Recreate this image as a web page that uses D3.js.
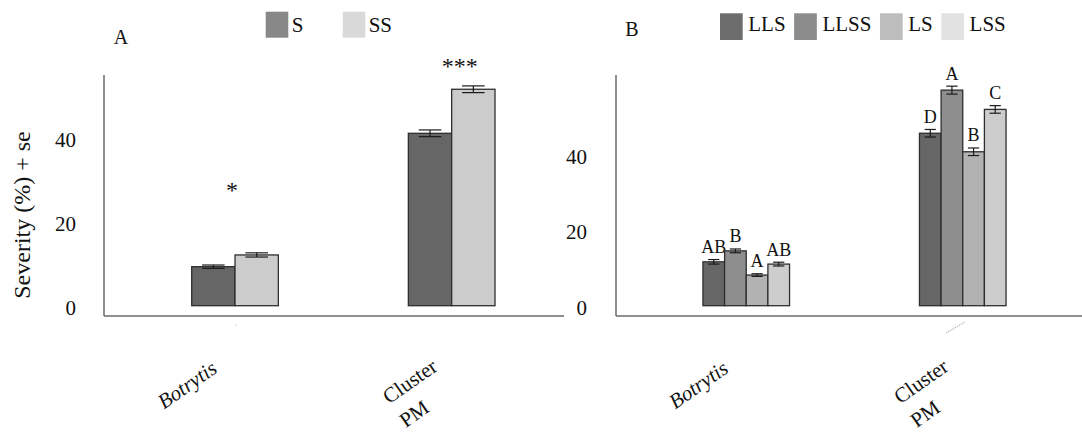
<!DOCTYPE html>
<html><head><meta charset="utf-8">
<script src="https://cdn.jsdelivr.net/npm/d3@7"></script>
<style>
body{margin:0;background:#fff}
svg{display:block}
svg text{font-family:"Liberation Serif","Times New Roman",Times,serif !important;fill:#111}
</style>
</head><body>
<svg id="c" width="1082" height="432" font-family="Liberation Serif"></svg>
<script>
// ---------- data ----------
const categories = ["Botrytis", "Cluster PM"];
const categoryLines = [["Botrytis"], ["Cluster", "PM"]];
const categoryItalic = [true, false];
const yTicks = [0, 20, 40];

// Panel A
const seriesA = ["S", "SS"];
const A_S = [9.3, 41.1];
const A_SS = [12.1, 51.6];
const A_S_se = [0.4, 0.8];
const A_SS_se = [0.5, 0.8];
const sigA = ["*", "***"];
const sigLevelA = [25.7, 55.2];

// Panel B
const seriesB = ["LLS", "LLSS", "LS", "LSS"];
const B_LLS = [11.6, 45.6];
const B_LLSS = [14.5, 57.0];
const B_LS = [8.1, 40.7];
const B_LSS = [11.0, 51.9];
const B_LLS_se = [0.6, 1.0];
const B_LLSS_se = [0.5, 1.05];
const B_LS_se = [0.35, 1.0];
const B_LSS_se = [0.5, 1.0];
const B_LLS_let = ["AB", "D"];
const B_LLSS_let = ["B", "A"];
const B_LS_let = ["A", "B"];
const B_LSS_let = ["AB", "C"];

// ---------- styles ----------
const FONT = "'Liberation Serif', 'Times New Roman', Times, serif";
const barFillA = ["#666666", "#cccccc"];
const legFillA = ["#888888", "#d9d9d9"];
const barFillB = ["#666666", "#8e8e8e", "#b2b2b2", "#cdcdcd"];
const legFillB = ["#6d6d6d", "#8c8c8c", "#bdbdbd", "#e2e2e2"];

const svg = d3.select("#c");

function txt(sel) { return sel.style("font-family", FONT).attr("fill", "#111"); }

function panel(opt) {
  const g = svg.append("g");
  const x0 = d3.scaleBand().domain(categories).range(opt.xRange).paddingInner(0.6).paddingOuter(0.3);
  const x1 = d3.scaleBand().domain(opt.series).range([0, x0.bandwidth()]);
  const y = d3.scaleLinear().domain([0, opt.yMax]).range([305.7, 75]);

  // axis lines
  g.append("line").attr("x1", opt.axisX).attr("x2", opt.axisX).attr("y1", 75).attr("y2", 316)
    .attr("stroke", "#6a6a6a").attr("stroke-width", 1.5);
  g.append("line").attr("x1", opt.axisX).attr("x2", opt.xEnd).attr("y1", 316).attr("y2", 316)
    .attr("stroke", "#6a6a6a").attr("stroke-width", 1.5);

  // y tick labels
  const ax = g.append("g").attr("transform", `translate(${opt.axisX},0)`)
    .call(d3.axisLeft(y).tickValues(yTicks).tickSize(0).tickPadding(opt.tickPad).tickFormat(d3.format("d")));
  ax.attr("font-family", null);
  ax.select(".domain").remove();
  txt(ax.selectAll("text")).attr("font-size", 21).attr("dy", "0.42em");

  // bars
  opt.series.forEach((s, si) => {
    const vals = opt.values[si], ses = opt.se[si];
    categories.forEach((c, ci) => {
      const bx = x0(c) + x1(s), bw = x1.bandwidth();
      g.append("rect").attr("x", bx).attr("y", y(vals[ci])).attr("width", bw)
        .attr("height", y(0) - y(vals[ci]))
        .attr("fill", opt.fills[si]).attr("stroke", "#2e2e2e").attr("stroke-width", 1.3);
      const cx = bx + bw / 2, cw = bw * 0.26;
      const top = y(vals[ci] + ses[ci]), bot = y(vals[ci] - ses[ci]);
      g.append("line").attr("x1", cx).attr("x2", cx).attr("y1", top).attr("y2", bot).attr("stroke", "#1a1a1a").attr("stroke-width", 1.2);
      [top, bot].forEach(yy => g.append("line").attr("x1", cx - cw).attr("x2", cx + cw).attr("y1", yy).attr("y2", yy)
        .attr("stroke", "#1a1a1a").attr("stroke-width", 1.2));
      if (opt.letters) {
        txt(g.append("text")).attr("x", cx).attr("y", top - 6.5).attr("text-anchor", "middle")
          .attr("font-size", 18).text(opt.letters[si][ci]);
      }
    });
  });

  // category labels
  categories.forEach((c, ci) => {
    const lines = categoryLines[ci];
    const off = lines.length > 1 ? [-42, 381] : [-48, 384.5];
    const lg = g.append("g").attr("transform", `translate(${x0(c) + x0.bandwidth() / 2 + off[0]},${off[1]}) rotate(-35)`);
    const t0 = txt(lg.append("text")).attr("text-anchor", "middle").attr("dy", "0.35em").attr("font-size", 21)
      .style("font-style", categoryItalic[ci] ? "italic" : "normal").text(lines[0]);
    if (lines.length > 1) {
      const w = t0.node().getComputedTextLength();
      txt(lg.append("text")).attr("x", -w / 2).attr("y", 29).attr("dy", "0.35em").attr("font-size", 21)
        .attr("text-anchor", "start").text(lines[1]);
    }
  });

  return { g, x0, y };
}

// ---------- Panel A ----------
const pA = panel({
  xRange: [126.7, 560], axisX: 104, xEnd: 564, tickPad: 28, yMax: 55,
  series: seriesA, values: [A_S, A_SS], se: [A_S_se, A_SS_se], fills: barFillA
});
categories.forEach((c, ci) => {
  txt(svg.append("text")).attr("x", pA.x0(c) + pA.x0.bandwidth() / 2 + (ci ? 8 : -3)).attr("y", pA.y(sigLevelA[ci]))
    .attr("text-anchor", "middle").attr("font-size", 24).text(sigA[ci]);
});
txt(svg.append("text")).attr("x", 121).attr("y", 44).attr("text-anchor", "middle").attr("font-size", 20).text("A");
txt(svg.append("text")).attr("transform", "translate(30,215) rotate(-90)").attr("text-anchor", "middle")
  .attr("font-size", 24).text("Severity (%) + se");
// faint scan speck under panel A axis
svg.append("circle").attr("cx", 236).attr("cy", 325).attr("r", 0.8).attr("fill", "#d0d0d0");

// legend A
seriesA.forEach((s, i) => {
  const lx = 265.7 + i * 77;
  svg.append("rect").attr("x", lx).attr("y", 11.7).attr("width", 22.6).attr("height", 26).attr("fill", legFillA[i]);
  txt(svg.append("text")).attr("x", lx + 26).attr("y", 31.7).attr("font-size", 21).text(s);
});

// ---------- Panel B ----------
const pB = panel({
  xRange: [638, 1071], axisX: 616, xEnd: 1082, tickPad: 29, yMax: 61,
  series: seriesB, values: [B_LLS, B_LLSS, B_LS, B_LSS], se: [B_LLS_se, B_LLSS_se, B_LS_se, B_LSS_se],
  fills: barFillB, letters: [B_LLS_let, B_LLSS_let, B_LS_let, B_LSS_let]
});
txt(svg.append("text")).attr("x", 632).attr("y", 36).attr("text-anchor", "middle").attr("font-size", 20).text("B");
// faint dotted leader remnant under panel B axis
svg.append("line").attr("x1", 946).attr("y1", 333).attr("x2", 965).attr("y2", 322)
  .attr("stroke", "#9a9a9a").attr("stroke-width", 0.9).attr("stroke-dasharray", "1.5,1");

// legend B (flow layout)
let lxB = 720;
seriesB.forEach((s, i) => {
  svg.append("rect").attr("x", lxB).attr("y", 13.3).attr("width", 22.7).attr("height", 26.7).attr("fill", legFillB[i]);
  const t = txt(svg.append("text")).attr("x", lxB + 28.3).attr("y", 31).attr("font-size", 21).text(s);
  lxB += 28.3 + t.node().getComputedTextLength() + 8.5;
});
</script>
</body></html>
